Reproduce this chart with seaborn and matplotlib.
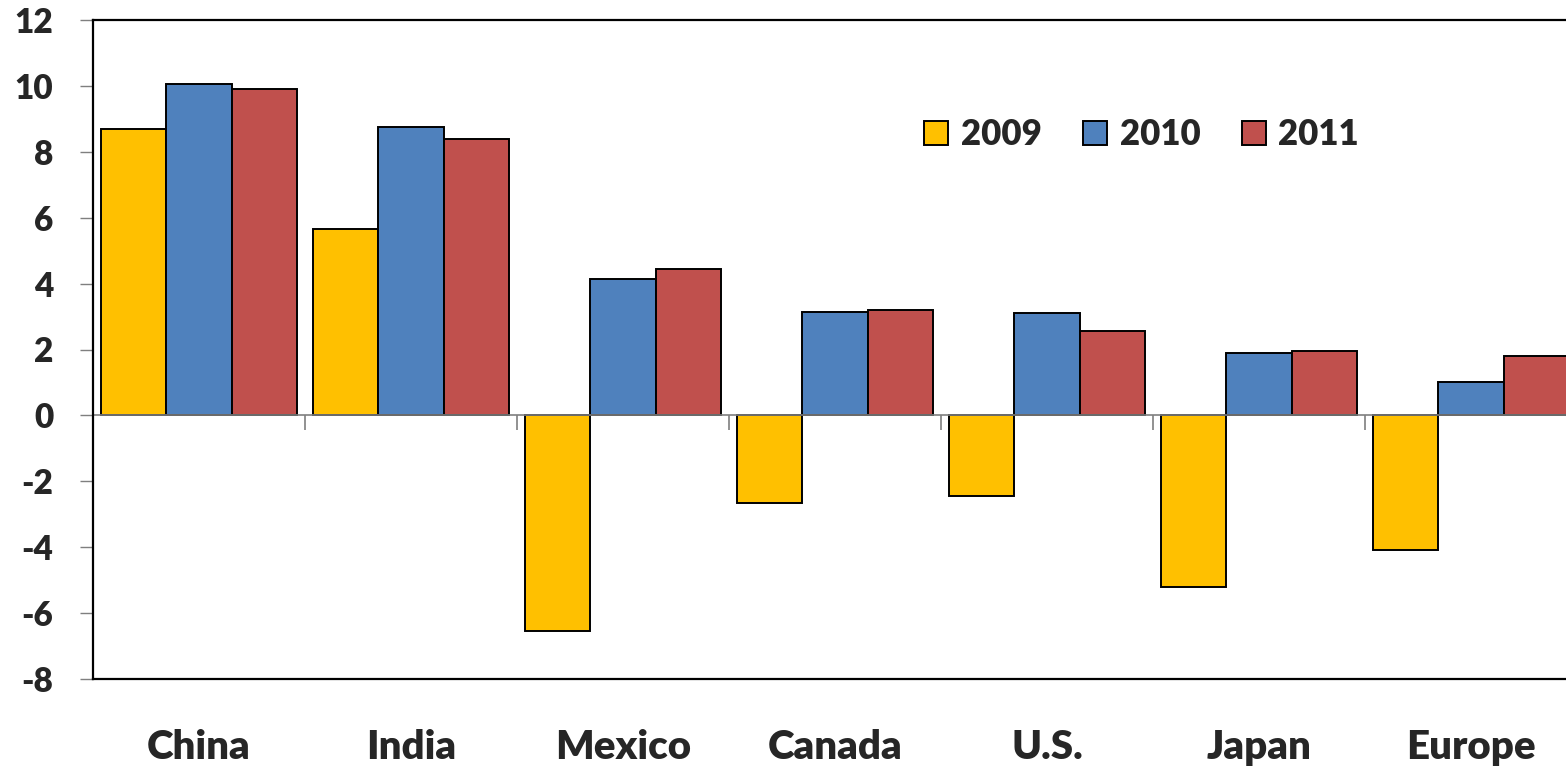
import matplotlib
matplotlib.use("Agg")
import matplotlib.pyplot as plt
import seaborn as sns
import pandas as pd

# GDP growth by economy and year (%)
countries = ["China", "India", "Mexico", "Canada", "U.S.", "Japan", "Europe"]
years = ["2009", "2010", "2011"]
growth_2009 = [8.7, 5.65, -6.55, -2.65, -2.45, -5.2, -4.1]
growth_2010 = [10.05, 8.75, 4.15, 3.15, 3.1, 1.9, 1.0]
growth_2011 = [9.9, 8.4, 4.45, 3.2, 2.55, 1.95, 1.8]
y_ticks = [12, 10, 8, 6, 4, 2, 0, -2, -4, -6, -8]

palette = ["#FFC000", "#4F81BD", "#C0504D"]

df = pd.DataFrame({
    "country": countries * 3,
    "year": [years[0]] * 7 + [years[1]] * 7 + [years[2]] * 7,
    "growth": growth_2009 + growth_2010 + growth_2011,
})

sns.set_theme(style="white")
plt.rcParams["font.family"] = ["Lato", "DejaVu Sans"]
plt.rcParams["font.weight"] = "heavy"
W = "heavy"

fig = plt.figure(figsize=(15.66, 7.68), dpi=100)
ax = fig.add_axes([93 / 1566, 1 - 679 / 768, 1484 / 1566, 659 / 768])

sns.barplot(data=df, x="country", y="growth", hue="year", order=countries,
            hue_order=years, palette=palette, width=0.92, gap=0,
            edgecolor="black", linewidth=1.4, saturation=1, ax=ax)

ax.set_ylim(-8, 12)
ax.set_xlim(-0.5, len(countries) - 0.5)
ax.set_yticks(y_ticks)
ax.set_yticklabels([str(v) for v in y_ticks], fontsize=24, fontweight=W)
ax.set_xticks(range(len(countries)))
ax.set_xticklabels(countries, fontsize=29, fontweight=W)
ax.set_xlabel("")
ax.set_ylabel("")

ax.tick_params(axis="y", direction="out", length=9.5, width=1, color="#7f7f7f",
               pad=19, left=True)
ax.tick_params(axis="x", length=0, pad=36)

for side in ["left", "top", "bottom", "right"]:
    ax.spines[side].set_visible(True)
    ax.spines[side].set_color("black")
    ax.spines[side].set_linewidth(1.6)

# zero line with category separators hanging below it
ax.axhline(0, color="#7f7f7f", linewidth=1.2, zorder=1)
ax.vlines([i + 0.5 for i in range(len(countries) - 1)], -0.45, 0,
          color="#7f7f7f", linewidth=1.2, zorder=1)

leg = ax.legend(loc="upper left", bbox_to_anchor=(0.539, 0.898), ncol=3,
                frameon=False, fontsize=25, handlelength=0.7,
                handleheight=0.7, handletextpad=0.35, columnspacing=1.2)
for t in leg.get_texts():
    t.set_fontweight(W)
for h in leg.legend_handles:
    h.set_edgecolor("black")
    h.set_linewidth(1.4)

fig.savefig("out.png", dpi=100)
